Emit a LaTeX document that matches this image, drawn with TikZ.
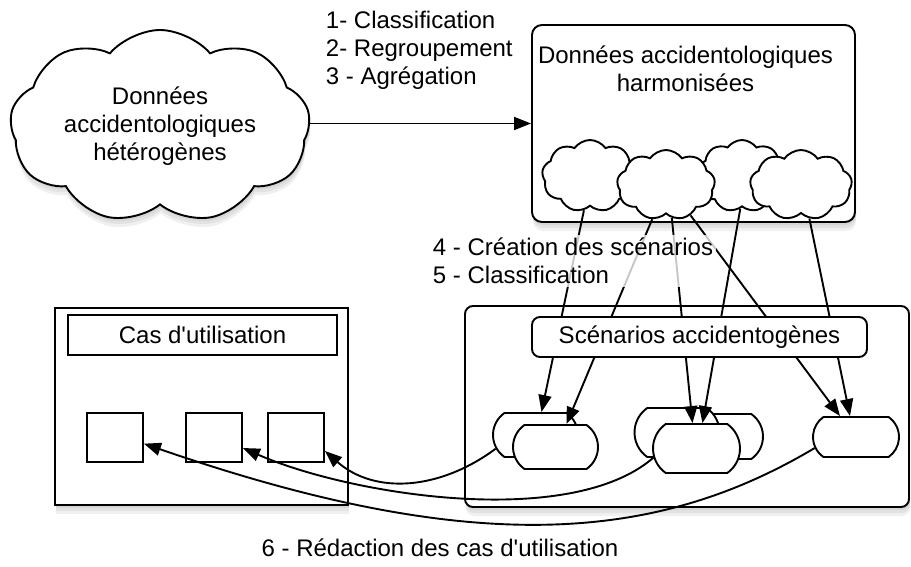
\documentclass[tikz,border=0pt]{standalone}
\usepackage{fontspec}
\setmainfont{Liberation Sans}
\usetikzlibrary{shapes.symbols, shapes.misc, arrows.meta, positioning, shadows, calc}

\begin{document}
\begin{tikzpicture}[
    x=1pt, y=-1pt,
    line width=1.9pt,
    font=\fontsize{24}{28}\selectfont,
    shade/.style={drop shadow={opacity=0.12, shadow xshift=1pt, shadow yshift=-3pt},
                  drop shadow={opacity=0.12, shadow xshift=1pt, shadow yshift=-6pt},
                  drop shadow={opacity=0.12, shadow xshift=1pt, shadow yshift=-9pt}},
    bigcloud/.style={cloud, cloud puffs=9, cloud puff arc=100, cloud ignores aspect, draw, fill=white, align=center, inner sep=0pt},
    puff/.style={cloud, cloud puffs=9, cloud puff arc=110, cloud ignores aspect, draw, fill=white, minimum width=96pt, minimum height=72pt, inner sep=0pt},
    frame/.style={draw, fill=white, rounded corners=8pt, inner sep=0pt},
    capsule/.style={draw, fill=white, rounded rectangle, rounded rectangle arc length=110, minimum width=85pt, minimum height=44pt, inner sep=0pt},
    usecase/.style={draw, fill=white, minimum width=56pt, minimum height=49pt, inner sep=0pt},
    txt/.style={inner sep=3pt, align=left},
    arr/.style={-{Triangle[length=17pt, width=13pt]}},
]
\useasboundingbox (0,0) rectangle (911,567);

% use cases
\node[draw, fill=white, shade, minimum width=293pt, minimum height=197pt] (cases) at (201.5,406.5) {};
\node[draw, fill=white, minimum width=269pt, minimum height=40pt, inner sep=0pt] (casetitle) at (202.5,335) {Cas d\textquotesingle utilisation};
\node[usecase] (sq1) at (115,437.5) {};
\node[usecase] (sq2) at (214,437.5) {};
\node[usecase] (sq3) at (296,437.5) {};

% scenarios
\node[frame, shade, minimum width=444pt, minimum height=201pt] (scen) at (687,406.5) {};
\node[capsule] (cap1b) at (535.5,435) {};
\node[capsule] (cap1f) at (555.5,447) {};
\node[capsule, minimum height=45pt] (cap2r) at (720.5,436.5) {};
\node[capsule, minimum height=49pt] (cap2l) at (677,432.5) {};
\node[capsule, minimum width=87pt, minimum height=49pt] (cap2f) at (696.5,448.5) {};
\node[capsule, minimum width=86pt, minimum height=40pt] (cap3) at (856,437) {};

% data
\node[bigcloud, shade, minimum width=300pt, minimum height=193pt] (raw) at (160,126.5)
    {Données\\accidentologiques\\hétérogènes};
\node[frame, shade, rounded corners=10pt, minimum width=323pt, minimum height=197pt] (harm) at (693.5,123.5) {};
\node[inner sep=3pt, align=center, below=18pt of harm.north, xshift=-8pt] (harmlbl)
    {Données accidentologiques\\harmonisées};
\node[puff] (c1) at (590,176) {};
\node[puff, minimum width=90pt] (c3) at (742,176) {};
\node[puff, minimum width=98pt, minimum height=70pt] (c2) at (666,185) {};
\node[puff, minimum width=102pt, minimum height=70pt] (c4) at (801,185) {};

% scenario creation
\draw[arr] (c1.-100) -- ($(cap1b.north)+(6,0)$);
\draw[arr] (c2.-112) -- ($(cap1f.north)+(11,0)$);
\draw[arr] (c2.-80) -- ($(cap2f.north)+(-4,0)$);
\draw[arr] (c2.-51) -- ($(cap3.north)+(-16,0)$);
\draw[arr] (c3.-93) -- ($(cap2f.north)+(6,0)$);
\draw[arr] (c4.-76) -- ($(cap3.north)+(-6,0)$);

\node[frame, minimum width=335pt, minimum height=40pt] (scentitle) at (699.5,337) {Scénarios accidentogènes};

\node[txt, anchor=north west, fill=white, fill opacity=0.78, text opacity=1] (step45) at (429,234)
    {4 - Création des scénarios\\5 - Classification};
\node[txt, anchor=north west] (step123) at (322,7)
    {1- Classification\\2- Regroupement\\3 - Agrégation};
\node[txt] (step6) at (440,548) {6 - Rédaction des cas d\textquotesingle utilisation};

\draw[arr] (harm.west -| raw.east) -- (harm.west);

% writing the use cases
\draw[arr] (cap1b.199) .. controls (440,490) and (375,495) .. (sq3.-25);
\draw[arr] (cap2f.192) .. controls (570,530) and (350,495) .. (sq2.-20);
\draw[arr] (cap3.195) .. controls (660,540) and (480,560) .. (sq1.-12);

\end{tikzpicture}
\end{document}
